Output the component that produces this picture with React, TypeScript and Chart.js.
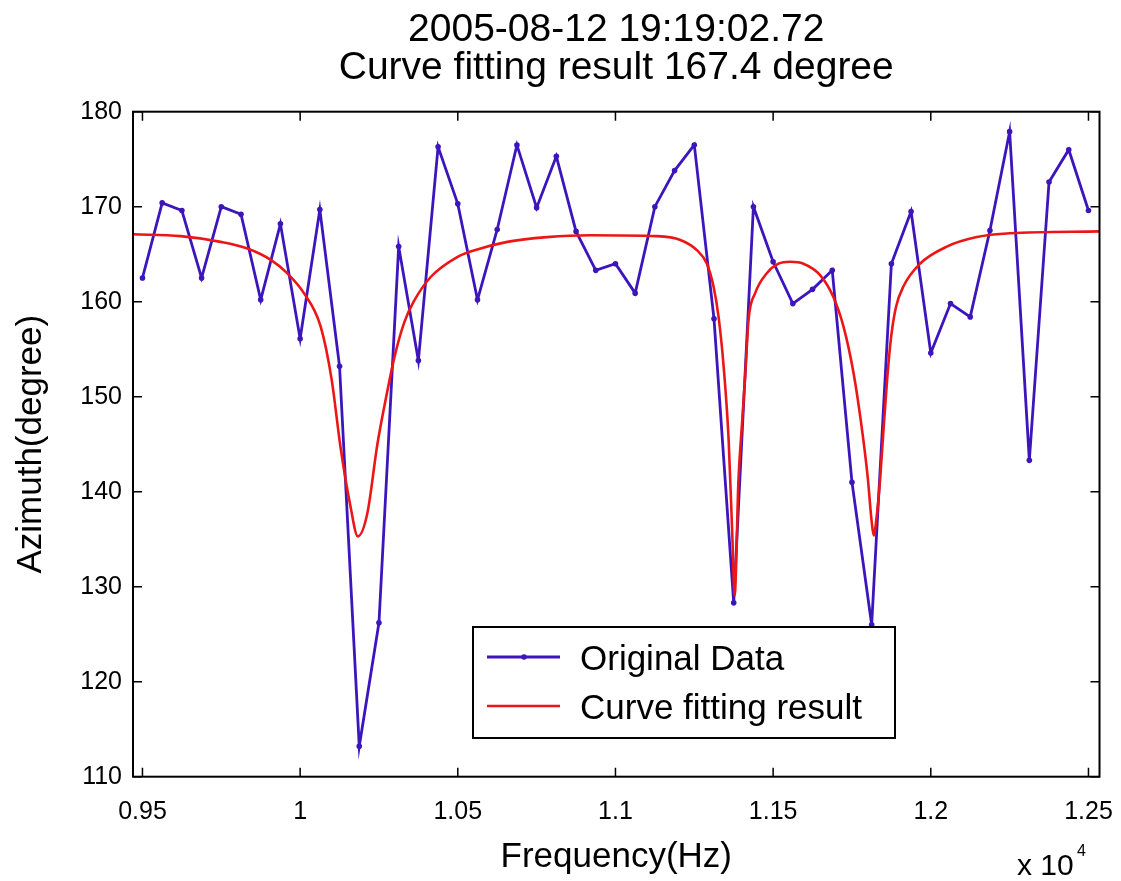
import React, { useEffect, useRef } from 'react';
import { Chart, registerables } from 'chart.js';

Chart.register(...registerables);

const TITLE_LINES = ['2005-08-12 19:19:02.72', 'Curve fitting result 167.4 degree'];
const X_TITLE = 'Frequency(Hz)';
const Y_TITLE = 'Azimuth(degree)';
const X_EXPONENT_BASE = 'x 10';
const X_EXPONENT_POWER = '4';
const SERIES_NAMES = ['Original Data', 'Curve fitting result'];

const ORIGINAL_FREQ = [
  9500, 9562.5, 9625, 9687.5, 9750, 9812.5, 9875, 9937.5, 10000, 10062.5,
  10125, 10187.5, 10250, 10312.5, 10375, 10437.5, 10500, 10562.5, 10625, 10687.5,
  10750, 10812.5, 10875, 10937.5, 11000, 11062.5, 11125, 11187.5, 11250, 11312.5,
  11375, 11437.5, 11500, 11562.5, 11625, 11687.5, 11750, 11812.5, 11875, 11937.5,
  12000, 12062.5, 12125, 12187.5, 12250, 12312.5, 12375, 12437.5, 12500,
];
const ORIGINAL_AZIMUTH = [
  162.5, 170.4, 169.6, 162.5, 170.0, 169.2, 160.2, 168.2, 156.1, 169.7,
  153.2, 113.2, 126.2, 165.8, 153.8, 176.3, 170.3, 160.2, 167.6, 176.5,
  169.9, 175.3, 167.4, 163.3, 164.0, 160.9, 170.0, 173.8, 176.5, 158.2,
  128.3, 170.0, 164.2, 159.8, 161.3, 163.3, 141.0, 126.0, 164.0, 169.5,
  154.6, 159.8, 158.4, 167.5, 177.9, 143.3, 172.6, 176.0, 169.6,
];

const FIT_FREQ = [
  9470, 9621, 9748, 9833, 9907, 9959, 10012, 10065, 10100, 10128,
  10160, 10183, 10213, 10245, 10276, 10300, 10330, 10360, 10414, 10498,
  10551, 10657, 10783, 10920, 11132, 11206, 11259, 11290, 11311, 11327,
  11343, 11359, 11371, 11378, 11390, 11401, 11412, 11422, 11443, 11480,
  11517, 11554, 11596, 11649, 11691, 11723, 11755, 11780, 11800, 11812,
  11819, 11827, 11839, 11850, 11862, 11875, 11890, 11913, 11966, 12051,
  12146, 12251, 12535,
];
const FIT_AZIMUTH = [
  167.1, 166.9, 166.3, 165.6, 164.4, 163.0, 160.9, 157.4, 151.8, 144.7,
  138.4, 135.3, 137.7, 145.0, 150.5, 154.3, 157.8, 160.0, 162.6, 164.7,
  165.4, 166.3, 166.8, 167.0, 166.9, 166.5, 165.4, 164.0, 161.6, 158.4,
  153.2, 145.4, 135.0, 129.1, 141.2, 147.0, 152.5, 158.1, 160.9, 163.0,
  164.0, 164.2, 164.0, 162.8, 160.5, 157.4, 152.5, 147.0, 141.5, 137.0,
  135.4, 137.0, 141.2, 146.5, 152.0, 156.5, 159.5, 161.6, 164.0, 165.8,
  166.8, 167.2, 167.4,
];

const X_TICK_VALUES = [9500, 10000, 10500, 11000, 11500, 12000, 12500];
const X_TICK_LABELS = ['0.95', '1', '1.05', '1.1', '1.15', '1.2', '1.25'];
const Y_TICK_VALUES = [110, 120, 130, 140, 150, 160, 170, 180];

const FONT = "'Liberation Sans', Arial, Helvetica, sans-serif";
const BLUE = 'rgb(60, 22, 188)';
const RED = 'rgb(236, 22, 22)';

const titlePlugin = {
  id: 'matlabTitle',
  afterDraw(chart: any) {
    const { ctx, chartArea } = chart;
    ctx.save();
    ctx.fillStyle = '#000';
    ctx.font = `39px ${FONT}`;
    ctx.textAlign = 'center';
    ctx.textBaseline = 'middle';
    const cx = (chartArea.left + chartArea.right) / 2;
    TITLE_LINES.forEach((line, i) => {
      ctx.fillText(line, cx, 30 + i * 38.5);
    });
    ctx.restore();
  },
};

const framePlugin = {
  id: 'matlabFrame',
  afterDatasetsDraw(chart: any) {
    const { ctx, chartArea, scales } = chart;
    const { left, right, top, bottom } = chartArea;
    const len = 9;
    ctx.save();
    ctx.strokeStyle = '#000';
    ctx.lineWidth = 1.5;
    ctx.beginPath();
    scales.x.ticks.forEach((t: any) => {
      const px = scales.x.getPixelForValue(t.value);
      ctx.moveTo(px, bottom);
      ctx.lineTo(px, bottom - len);
      ctx.moveTo(px, top);
      ctx.lineTo(px, top + len);
    });
    scales.y.ticks.forEach((t: any) => {
      const py = scales.y.getPixelForValue(t.value);
      ctx.moveTo(left, py);
      ctx.lineTo(left + len, py);
      ctx.moveTo(right, py);
      ctx.lineTo(right - len, py);
    });
    ctx.stroke();
    ctx.lineWidth = 2;
    ctx.strokeRect(left, top, right - left, bottom - top);
    ctx.restore();
  },
};

const legendPlugin = {
  id: 'matlabLegend',
  afterDraw(chart: any) {
    const { ctx } = chart;
    const ds = chart.data.datasets;
    const box = { x: 473, y: 627, w: 422, h: 111 };
    ctx.save();
    ctx.fillStyle = '#fff';
    ctx.fillRect(box.x, box.y, box.w, box.h);
    ctx.strokeStyle = '#000';
    ctx.lineWidth = 2;
    ctx.strokeRect(box.x, box.y, box.w, box.h);
    const rows = [657, 706];
    rows.forEach((ry, i) => {
      const d = ds[i];
      ctx.strokeStyle = d.borderColor;
      ctx.lineWidth = d.borderWidth;
      ctx.beginPath();
      ctx.moveTo(487, ry);
      ctx.lineTo(560, ry);
      ctx.stroke();
      if (d.pointRadius > 0) {
        ctx.fillStyle = d.borderColor;
        ctx.beginPath();
        ctx.arc(524, ry, d.pointRadius, 0, Math.PI * 2);
        ctx.fill();
      }
      ctx.fillStyle = '#000';
      ctx.font = `35px ${FONT}`;
      ctx.textAlign = 'left';
      ctx.textBaseline = 'middle';
      ctx.fillText(d.label, 580, ry + 3);
    });
    ctx.restore();
  },
};

const exponentPlugin = {
  id: 'matlabExponent',
  afterDraw(chart: any) {
    const { ctx } = chart;
    ctx.save();
    ctx.fillStyle = '#000';
    ctx.textAlign = 'left';
    ctx.textBaseline = 'alphabetic';
    ctx.font = `30px ${FONT}`;
    ctx.fillText(X_EXPONENT_BASE, 1017, 875);
    ctx.font = `16px ${FONT}`;
    ctx.fillText(X_EXPONENT_POWER, 1077, 856);
    ctx.restore();
  },
};

export default function App() {
  const canvasRef = useRef<HTMLCanvasElement | null>(null);

  useEffect(() => {
    const canvas = canvasRef.current;
    if (!canvas) return;
    const chart = new Chart(canvas, {
      type: 'line',
      data: {
        datasets: [
          {
            label: SERIES_NAMES[0],
            data: ORIGINAL_FREQ.map((x, i) => ({ x, y: ORIGINAL_AZIMUTH[i] })),
            borderColor: BLUE,
            backgroundColor: BLUE,
            borderWidth: 2.8,
            pointRadius: 2.8,
            pointHoverRadius: 2.8,
            pointBorderWidth: 0,
            pointBackgroundColor: BLUE,
            tension: 0,
            fill: false,
            order: 1,
          } as any,
          {
            label: SERIES_NAMES[1],
            data: FIT_FREQ.map((x, i) => ({ x, y: FIT_AZIMUTH[i] })),
            borderColor: RED,
            backgroundColor: RED,
            borderWidth: 2.6,
            pointRadius: 0,
            pointHoverRadius: 0,
            cubicInterpolationMode: 'monotone',
            fill: false,
            order: 0,
          } as any,
        ],
      },
      options: {
        animation: false,
        responsive: false,
        maintainAspectRatio: false,
        events: [],
        layout: { padding: { top: 111.7, right: 21.5, left: 0, bottom: 0 } },
        plugins: {
          legend: { display: false },
          title: { display: false },
          tooltip: { enabled: false },
        },
        scales: {
          x: {
            type: 'linear',
            min: 9470,
            max: 12535,
            afterBuildTicks: (scale: any) => {
              scale.ticks = X_TICK_VALUES.map((v) => ({ value: v }));
            },
            afterFit: (scale: any) => {
              scale.height = 104.3;
              scale.paddingLeft = 0;
              scale.paddingRight = 0;
            },
            ticks: {
              autoSkip: false,
              maxRotation: 0,
              minRotation: 0,
              padding: 20,
              color: '#000',
              font: { family: FONT, size: 25 },
              callback: (v: any) => {
                const idx = X_TICK_VALUES.indexOf(Number(v));
                return idx >= 0 ? X_TICK_LABELS[idx] : '';
              },
            },
            grid: { display: false, drawTicks: false },
            border: { display: false },
            title: {
              display: true,
              text: X_TITLE,
              color: '#000',
              font: { family: FONT, size: 35 },
              padding: { top: 0, bottom: 3 },
            },
          },
          y: {
            type: 'linear',
            min: 110,
            max: 180,
            afterBuildTicks: (scale: any) => {
              scale.ticks = Y_TICK_VALUES.map((v) => ({ value: v }));
            },
            afterFit: (scale: any) => {
              scale.width = 133;
              scale.paddingTop = 0;
              scale.paddingBottom = 0;
            },
            ticks: {
              padding: 11,
              color: '#000',
              font: { family: FONT, size: 25 },
            },
            grid: { display: false, drawTicks: false },
            border: { display: false },
            title: {
              display: true,
              text: Y_TITLE,
              color: '#000',
              font: { family: FONT, size: 35 },
              padding: { top: 10, bottom: 0 },
            },
          },
        },
      } as any,
      plugins: [framePlugin, titlePlugin, legendPlugin, exponentPlugin],
    });
    return () => chart.destroy();
  }, []);

  return (
    <div style={{ position: 'absolute', left: 0, top: 0, width: 1121, height: 881, background: '#fff' }}>
      <canvas ref={canvasRef} width={1121} height={881} style={{ width: 1121, height: 881, display: 'block' }} />
    </div>
  );
}
